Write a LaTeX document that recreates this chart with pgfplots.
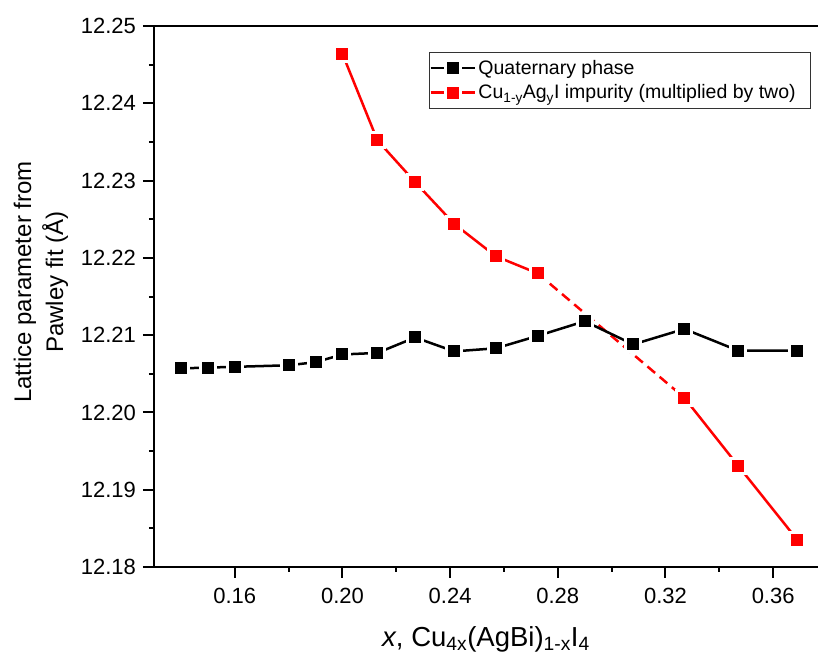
\documentclass[border=0pt]{standalone}
\usepackage{fontspec}
\setmainfont{Liberation Sans}
\usepackage{pgfplots}
\pgfplotsset{compat=1.18}
\pgfplotstableread{
x y
0.14 12.2057
0.15 12.2058
0.16 12.2059
0.18 12.2061
0.19 12.2065
0.20 12.2075
0.213 12.2077
0.227 12.2097
0.2415 12.2079
0.257 12.2083
0.2725 12.2099
0.29 12.2118
0.308 12.2088
0.327 12.2108
0.347 12.2080
0.369 12.2080
}\quaternary
\pgfplotstableread{
x y
0.20 12.2464
0.213 12.2352
0.227 12.2298
0.2415 12.2244
0.257 12.2202
0.2725 12.2180
}\impA
\pgfplotstableread{
x y
0.2725 12.2180
0.327 12.2019
}\impgap
\pgfplotstableread{
x y
0.327 12.2019
0.347 12.1931
0.369 12.1835
}\impB
\begin{document}
\begin{tikzpicture}
\path[use as bounding box] (-154pt,-88pt) rectangle (664pt,567pt);
\begin{axis}[
  at={(0pt,0pt)}, anchor=south west,
  scale only axis, width=664pt, height=541pt,
  xmin=0.13, xmax=0.37666, ymin=12.18, ymax=12.25,
  axis x line=box, axis y line=left,
  axis line style={-, line width=2pt, black},
  xtick pos=left, ytick pos=left,
  tick align=outside,
  xtick={0.16,0.20,0.24,0.28,0.32,0.36},
  ytick={12.18,12.19,12.20,12.21,12.22,12.23,12.24,12.25},
  minor x tick num=1, minor y tick num=1,
  major tick length=11pt, minor tick length=5pt,
  every tick/.style={black, line width=2pt},
  /pgf/number format/assume math mode=true,
  xticklabel style={yshift=-7pt, /pgf/number format/.cd, fixed, fixed zerofill, precision=2},
  yticklabel style={xshift=-3.5pt, /pgf/number format/.cd, fixed, fixed zerofill, precision=2},
  ticklabel style={font=\fontsize{22}{26}\selectfont},
  xlabel={\textit{x}, Cu\textsubscript{4x}(AgBi)\textsubscript{1-x}I\textsubscript{4}},
  xlabel style={font=\fontsize{27.5}{32}\selectfont, at={(axis description cs:0.5,0)}, anchor=base, yshift=-79pt},
  ylabel={Lattice parameter from\\Pawley fit (Å)},
  ylabel style={font=\fontsize{24}{32}\selectfont, align=center, at={(axis description cs:-0.1702,0.5268)}, anchor=center, rotate=0},
  legend style={at={(rel axis cs:0.989,0.9525)}, anchor=north east,
    draw=black!80, line width=1pt, fill=white,
    font=\fontsize{19.5}{23}\selectfont,
    inner xsep=0pt, inner ysep=5.5pt, row sep=4pt,
    nodes={inner ysep=2.5pt, inner xsep=2.5pt}},
  legend cell align=left,
  legend image code/.code={\draw[mark repeat=2,mark phase=2,#1] plot coordinates {(0pt,0pt) (22pt,0pt) (44pt,0pt)};},
]
\addlegendimage{black, line width=2.5pt, mark=square*, mark size=7.5pt, mark options={solid, fill=black, draw=white, line width=3pt}}
\addlegendentry{Quaternary phase}
\addlegendimage{red, line width=2.5pt, mark=square*, mark size=7.5pt, mark options={solid, fill=red, draw=white, line width=3pt}}
\addlegendentry{Cu\textsubscript{1-y}Ag\textsubscript{y}I impurity (multiplied by two)\hspace*{12pt}}
\addplot[forget plot, red, line width=2.5pt, dash pattern=on 10pt off 6pt] table {\impgap};
\addplot[forget plot, red, line width=2.5pt, mark=square*, mark size=7.5pt, mark options={solid, fill=red, draw=white, line width=3pt}] table {\impA};
\addplot[forget plot, red, line width=2.5pt, mark=square*, mark size=7.5pt, mark options={solid, fill=red, draw=white, line width=3pt}] table {\impB};
\addplot[forget plot, black, line width=2.5pt, mark=square*, mark size=7.5pt, mark options={solid, fill=black, draw=white, line width=3pt}] table {\quaternary};
\end{axis}
\end{tikzpicture}
\end{document}
